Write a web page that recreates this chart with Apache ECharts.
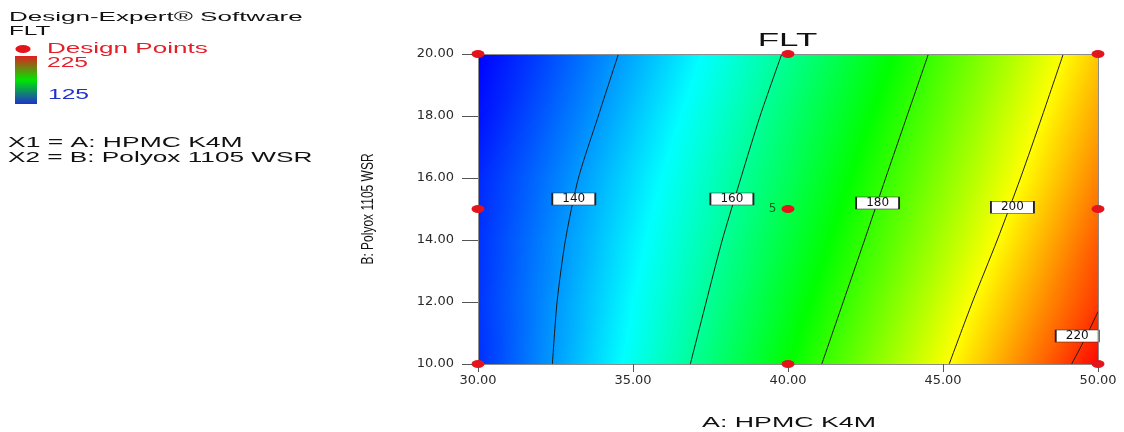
<!DOCTYPE html>
<html>
<head>
<meta charset="utf-8">
<title>FLT</title>
<script src="https://cdn.jsdelivr.net/npm/echarts@6/dist/echarts.min.js"></script>
<style>
html, body { margin: 0; padding: 0; background: #fff; }
#flt { width: 1124px; height: 432px; }
</style>
</head>
<body>
<div id="flt"></div>
<script>
// response surface: rows follow polyox, columns follow hpmc
const hpmc = [30, 32, 34, 36, 38, 40, 42, 44, 46, 48, 50];
const polyox = [10, 12, 14, 16, 18, 20];
const fltGrid = [
    [129.6, 138.3, 147.1, 156.1, 165.3, 174.8, 184.4, 194.1, 204.0, 214.1, 224.4],
    [130.1, 137.8, 145.9, 154.2, 162.8, 171.8, 181.0, 190.5, 200.3, 209.9, 219.3],
    [129.7, 137.0, 144.5, 152.3, 160.5, 169.0, 177.9, 187.0, 196.4, 206.1, 216.1],
    [128.8, 135.6, 142.8, 150.3, 158.1, 166.2, 175.0, 183.8, 192.9, 202.4, 212.2],
    [126.5, 133.3, 140.4, 147.9, 155.6, 163.7, 172.0, 180.7, 189.7, 199.1, 208.7],
    [124.7, 131.2, 138.1, 145.3, 152.9, 160.8, 169.1, 177.6, 186.6, 195.8, 205.4]
];

// contour lines, [A, B]
const contourLevels = [140, 160, 180, 200, 220];
const contour140 = [[32.40, 10], [32.55, 12], [32.82, 14], [33.24, 16], [33.88, 18], [34.53, 20]];
const contour160 = [[36.85, 10], [37.36, 12], [37.88, 14], [38.48, 16], [39.10, 18], [39.80, 20]];
const contour180 = [[41.09, 10], [41.78, 12], [42.47, 14], [43.15, 16], [43.84, 18], [44.53, 20]];
const contour200 = [[45.20, 10], [45.95, 12], [46.75, 14], [47.50, 16], [48.20, 18], [48.88, 20]];
const contour220 = [[49.15, 10], [49.60, 10.85], [50.00, 11.69]];
const contourLabelPos = [[33.09, 15.32], [38.19, 15.32], [42.89, 15.19], [47.24, 15.06], [49.33, 10.90]];

// design points
const designA = [30, 30, 30, 40, 40, 40, 50, 50, 50];
const designB = [10, 15, 20, 10, 15, 20, 10, 15, 20];
const designRuns = [1, 1, 1, 1, 5, 1, 1, 1, 1];

const colorLow = 125;
const colorHigh = 225;
const heatColors = ['#0000ff', '#00ffff', '#00ff00', '#ffff00', '#ff0000'];
const heatKnots = [150, 175, 200];

function colorAt(v) {
    let t = (v - colorLow) / (colorHigh - colorLow);
    t = Math.max(0, Math.min(1, t));
    return echarts.color.lerp(t, heatColors);
}

// linear gradient that follows the plane through a triangle's three values
function triFill(pts, vals) {
    const e1x = pts[1][0] - pts[0][0], e1y = pts[1][1] - pts[0][1];
    const e2x = pts[2][0] - pts[0][0], e2y = pts[2][1] - pts[0][1];
    const d1 = vals[1] - vals[0], d2 = vals[2] - vals[0];
    const det = e1x * e2y - e1y * e2x;
    const gx = (d1 * e2y - d2 * e1y) / det;
    const gy = (e1x * d2 - e2x * d1) / det;
    const g2 = gx * gx + gy * gy;
    let lo = 0, hi = 0;
    for (let k = 1; k < 3; k++) {
        if (vals[k] < vals[lo]) lo = k;
        if (vals[k] > vals[hi]) hi = k;
    }
    const vmin = vals[lo], vmax = vals[hi];
    if (vmax - vmin < 1e-6 || g2 < 1e-12) return colorAt(vals[0]);
    const k = (vmax - vmin) / g2;
    const s = pts[lo];
    const stopVals = [vmin];
    heatKnots.forEach(kv => { if (kv > vmin && kv < vmax) stopVals.push(kv); });
    stopVals.push(vmax);
    const stops = stopVals.map(v => ({offset: (v - vmin) / (vmax - vmin), color: colorAt(v)}));
    return new echarts.graphic.LinearGradient(s[0], s[1], s[0] + gx * k, s[1] + gy * k, stops, true);
}

function renderHeat(params, api) {
    const a0 = api.value(0), b0 = api.value(1), a1 = api.value(2), b1 = api.value(3);
    const v00 = api.value(4), v10 = api.value(5), v01 = api.value(6), v11 = api.value(7);
    const p00 = api.coord([a0, b0]), p10 = api.coord([a1, b0]);
    const p01 = api.coord([a0, b1]), p11 = api.coord([a1, b1]);
    const tri = (pts, vals) => {
        const fill = triFill(pts, vals);
        return {type: 'polygon', shape: {points: pts}, style: {fill: fill, stroke: fill, lineWidth: 0.8}};
    };
    return {
        type: 'group',
        children: [tri([p00, p10, p11], [v00, v10, v11]), tri([p00, p11, p01], [v00, v11, v01])]
    };
}

const heatCells = [];
for (let j = 0; j < polyox.length - 1; j++) {
    for (let i = 0; i < hpmc.length - 1; i++) {
        heatCells.push([hpmc[i], polyox[j], hpmc[i + 1], polyox[j + 1],
            fltGrid[j][i], fltGrid[j][i + 1], fltGrid[j + 1][i], fltGrid[j + 1][i + 1]]);
    }
}

const contourLines = [contour140, contour160, contour180, contour200, contour220];
const contourSeries = contourLines.map((pts, i) => ({
    type: 'line',
    name: 'FLT ' + contourLevels[i],
    data: pts,
    smooth: 0.25,
    showSymbol: false,
    silent: true,
    clip: true,
    z: 3,
    lineStyle: {color: '#1a1a1a', width: 1}
}));

const axisGray = '#8c8c8c';
const tickFont = {color: '#2a2a2a', fontFamily: 'DejaVu Sans', fontSize: 13};

function stretchedText(text, x, y, size, sx, color, align) {
    return {
        type: 'text', x: x, y: y, scaleX: sx, silent: true,
        style: {
            text: text, fill: color, fontSize: size, fontFamily: 'Liberation Sans',
            align: align, verticalAlign: 'middle', textAlign: align, textVerticalAlign: 'middle'
        }
    };
}

const chart = echarts.init(document.getElementById('flt'));

const option = {
    animation: false,
    backgroundColor: '#fff',
    grid: {left: 478, top: 54, width: 620, height: 310},
    xAxis: [{
        type: 'value', min: 30, max: 50, interval: 5, position: 'bottom', z: 5,
        axisLine: {onZero: false, lineStyle: {color: axisGray, width: 1}},
        axisTick: {length: 8, lineStyle: {color: '#555'}},
        axisLabel: Object.assign({margin: 10, formatter: v => v.toFixed(2)}, tickFont),
        splitLine: {show: false}
    }, {
        type: 'value', min: 30, max: 50, position: 'top', z: 5,
        axisLine: {onZero: false, lineStyle: {color: axisGray, width: 1}},
        axisTick: {show: false}, axisLabel: {show: false}, splitLine: {show: false}
    }],
    yAxis: [{
        type: 'value', min: 10, max: 20, interval: 2, position: 'left', z: 5,
        axisLine: {onZero: false, lineStyle: {color: axisGray, width: 1}},
        axisTick: {length: 16, lineStyle: {color: '#555'}},
        axisLabel: Object.assign({margin: 24, formatter: v => v.toFixed(2)}, tickFont),
        splitLine: {show: false}
    }, {
        type: 'value', min: 10, max: 20, position: 'right', z: 5,
        axisLine: {onZero: false, lineStyle: {color: axisGray, width: 1}},
        axisTick: {show: false}, axisLabel: {show: false}, splitLine: {show: false}
    }],
    series: [{
        type: 'custom',
        name: 'FLT surface',
        renderItem: renderHeat,
        data: heatCells,
        encode: {x: [0, 2], y: [1, 3]},
        silent: true,
        clip: true,
        z: 1
    }].concat(contourSeries, [{
        type: 'scatter',
        name: 'contour labels',
        data: contourLabelPos.map((p, i) => [p[0], p[1], String(contourLevels[i])]),
        symbol: 'rect',
        symbolSize: [43, 12],
        silent: true,
        z: 4,
        itemStyle: {color: '#fff', borderColor: '#222', borderWidth: 1, opacity: 1},
        label: {
            show: true, position: 'inside', formatter: p => p.data[2],
            color: '#111', fontFamily: 'DejaVu Sans', fontSize: 12
        }
    }, {
        type: 'scatter',
        name: 'Design Points',
        data: designA.map((a, i) => [a, designB[i], designRuns[i]]),
        symbol: 'path://M0 4a6 4 0 1 0 12 0a6 4 0 1 0 -12 0z',
        symbolSize: [13, 8],
        clip: false,
        silent: true,
        z: 6,
        itemStyle: {color: '#e3141c', opacity: 1},
        label: {
            show: true, position: 'left', distance: 5,
            formatter: p => (p.data[2] > 1 ? String(p.data[2]) : ''),
            color: '#1f5a1f', fontFamily: 'DejaVu Sans', fontSize: 12
        }
    }]),
    graphic: [
        stretchedText('Design-Expert\u00ae Software', 9, 17, 13, 2.0, '#111', 'left'),
        stretchedText('FLT', 9, 31, 13, 1.87, '#111', 'left'),
        {type: 'circle', x: 23, y: 49, scaleX: 1.9, silent: true, shape: {cx: 0, cy: 0, r: 4}, style: {fill: '#e3141c'}},
        stretchedText('Design Points', 47, 49, 14, 1.86, '#e3202a', 'left'),
        {
            type: 'rect', x: 15, y: 56, silent: true, shape: {width: 22, height: 48},
            style: {
                fill: new echarts.graphic.LinearGradient(0, 0, 0, 1, [
                    {offset: 0, color: '#e02020'},
                    {offset: 0.5, color: '#00e600'},
                    {offset: 1, color: '#2030d0'}
                ])
            }
        },
        stretchedText(String(colorHigh), 47, 63, 15, 1.64, '#e3202a', 'left'),
        stretchedText(String(colorLow), 48, 95, 15, 1.64, '#2030c8', 'left'),
        stretchedText('X1 = A: HPMC K4M', 8, 143.5, 14, 1.89, '#111', 'left'),
        stretchedText('X2 = B: Polyox 1105 WSR', 8, 158, 14, 1.87, '#111', 'left'),
        stretchedText('FLT', 787.5, 41, 18, 1.94, '#111', 'center'),
        stretchedText('A: HPMC K4M', 789, 423.5, 14, 1.91, '#111', 'center'),
        {
            type: 'text', x: 368, y: 209, rotation: Math.PI / 2, scaleY: 1.4, silent: true,
            style: {
                text: 'B: Polyox 1105 WSR', fill: '#111', fontSize: 12, fontFamily: 'Liberation Sans',
                align: 'center', verticalAlign: 'middle', textAlign: 'center', textVerticalAlign: 'middle'
            }
        }
    ]
};

chart.setOption(option);
</script>
</body>
</html>
